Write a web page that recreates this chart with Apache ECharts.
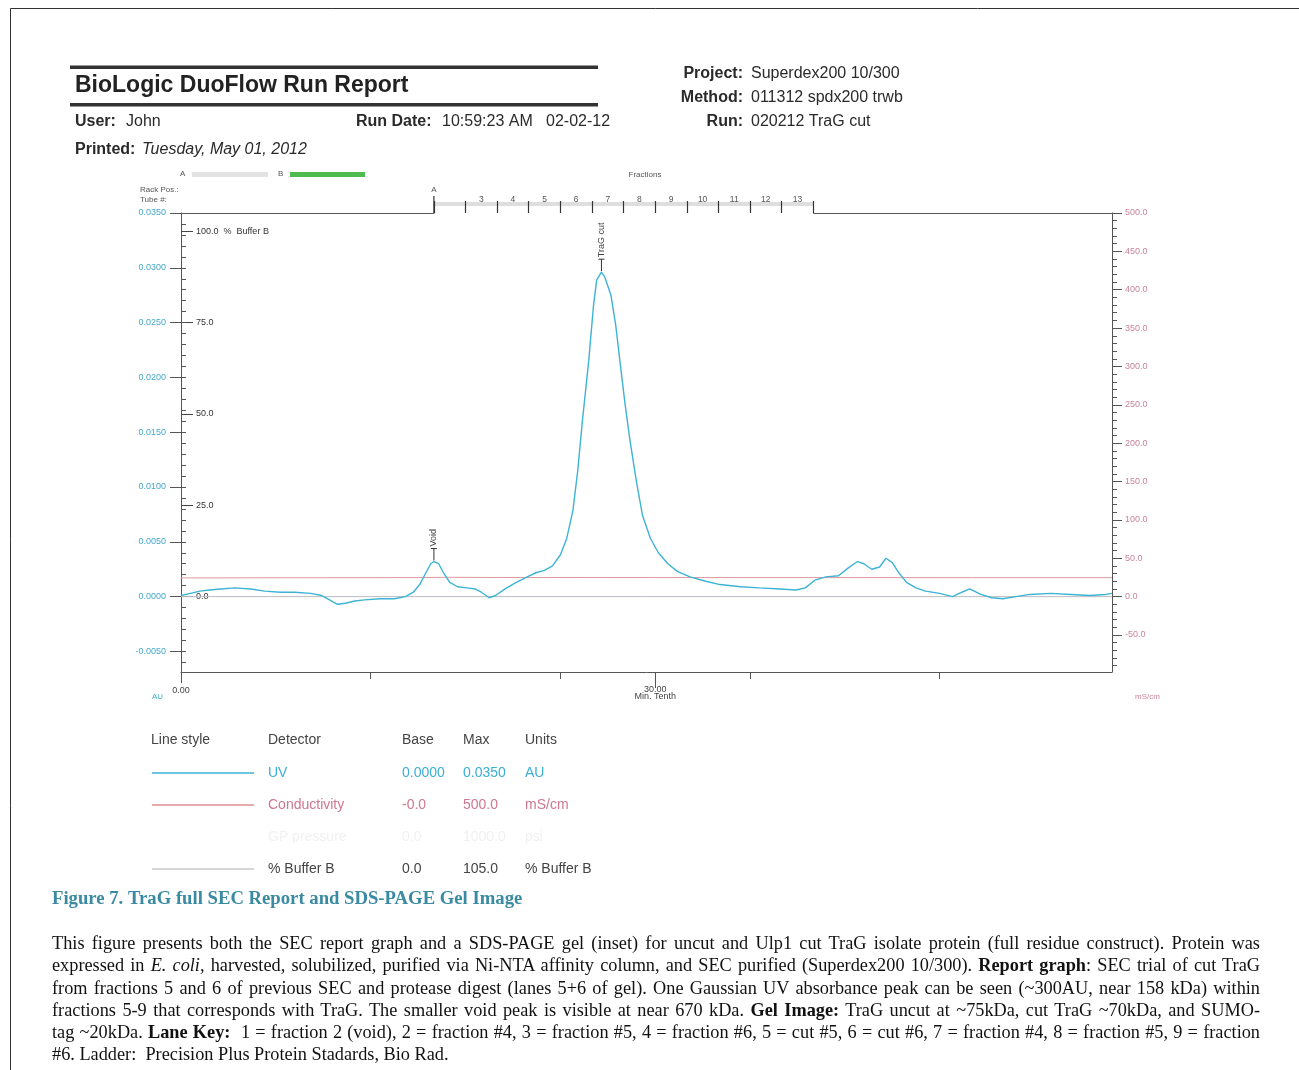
<!DOCTYPE html>
<html>
<head>
<meta charset="utf-8">
<title>BioLogic DuoFlow Run Report - TraG cut</title>
<script src="https://cdn.jsdelivr.net/npm/echarts@6.0.0/dist/echarts.min.js"></script>
<style>
  html, body { margin: 0; padding: 0; background: #fff; }
  #chart { position: absolute; left: 0; top: 0; width: 1299px; height: 1070px; }
  #caption {
    position: absolute; left: 52px; top: 932px; width: 1208px;
    font-family: 'Liberation Serif', 'Times New Roman', serif;
    font-size: 18.3px; line-height: 22.3px; color: #111;
  }
  #caption .ln { text-align: justify; text-align-last: justify; white-space: nowrap; overflow: visible; }
  #caption .ln.last { text-align: left; text-align-last: left; }
</style>
</head>
<body>
<div id="chart"></div>
<div id="caption">
  <div class="ln">This figure presents both the SEC report graph and a SDS-PAGE gel (inset) for uncut and Ulp1 cut TraG isolate protein (full residue construct). Protein was</div>
  <div class="ln">expressed in <i>E. coli</i>, harvested, solubilized, purified via Ni-NTA affinity column, and SEC purified (Superdex200 10/300). <b>Report graph</b>: SEC trial of cut TraG</div>
  <div class="ln">from fractions 5 and 6 of previous SEC and protease digest (lanes 5+6 of gel). One Gaussian UV absorbance peak can be seen (~300AU, near 158 kDa) within</div>
  <div class="ln">fractions 5-9 that corresponds with TraG. The smaller void peak is visible at near 670 kDa. <b>Gel Image:</b> TraG uncut at ~75kDa, cut TraG ~70kDa, and SUMO-</div>
  <div class="ln">tag ~20kDa. <b>Lane Key:</b>&nbsp; 1 = fraction 2 (void), 2 = fraction #4, 3 = fraction #5, 4 = fraction #6, 5 = cut #5, 6 = cut #6, 7 = fraction #4, 8 = fraction #5, 9 = fraction</div>
  <div class="ln last">#6. Ladder:&nbsp; Precision Plus Protein Stadards, Bio Rad.</div>
</div>
<script>
// ---- data ----
// run time in minutes (x axis)
const uvTime = [0, 0.6, 1.2, 1.8, 2.5, 3.4, 4.4, 5.3, 6.3, 7.2, 8.2, 8.9, 9.4, 9.9, 10.4, 11.0, 11.6, 12.6, 13.5,
  14.2, 14.7, 15.1, 15.5, 15.8, 16.0, 16.3, 16.6, 17.0, 17.5, 18.1, 18.6, 19.0, 19.5, 19.9, 20.5, 21.1, 21.9,
  22.5, 23.0, 23.5, 24.0, 24.4, 24.8, 25.1, 25.4, 25.8, 26.1, 26.3, 26.6, 26.8, 27.2, 27.5, 27.8, 28.1, 28.4,
  28.8, 29.2, 29.7, 30.2, 30.8, 31.4, 32.2, 33.2, 34.1, 35.4, 36.6, 37.9, 38.9, 39.5, 40.1, 40.8, 41.6, 42.2,
  42.8, 43.2, 43.7, 44.2, 44.6, 45.0, 45.4, 45.9, 46.5, 47.1, 48.0, 48.8, 49.4, 49.9, 50.6, 51.3, 52.0, 52.8,
  53.7, 55.0, 56.3, 57.5, 58.5, 58.9];
// UV absorbance (AU)
const uvAbs = [0.0001, 0.0003, 0.0005, 0.0006, 0.0007, 0.0008, 0.0007, 0.0005, 0.0004, 0.0004, 0.0003, 0.0001, -0.0003,
  -0.0007, -0.0006, -0.0004, -0.0003, -0.0002, -0.0002, 0.0000, 0.0004, 0.0011, 0.0022, 0.0030, 0.0032, 0.0030,
  0.0022, 0.0013, 0.0009, 0.0008, 0.0007, 0.0004, -0.0001, 0.0001, 0.0007, 0.0012, 0.0018, 0.0022, 0.0024, 0.0028,
  0.0038, 0.0053, 0.0079, 0.0115, 0.0161, 0.0216, 0.0266, 0.0289, 0.0296, 0.0292, 0.0275, 0.0248, 0.0211, 0.0175,
  0.0143, 0.0106, 0.0074, 0.0053, 0.0040, 0.0030, 0.0023, 0.0018, 0.0014, 0.0011, 0.0009, 0.0008, 0.0007, 0.0006,
  0.0008, 0.0015, 0.0018, 0.0019, 0.0026, 0.0032, 0.0030, 0.0025, 0.0027, 0.0035, 0.0031, 0.0022, 0.0013, 0.0008,
  0.0005, 0.0003, 0.0000, 0.0004, 0.0007, 0.0002, -0.0001, -0.0002, 0.0000, 0.0002, 0.0003, 0.0002, 0.0001, 0.0002,
  0.0003];
// conductivity (mS/cm)
const condTime = [0, 8, 15, 17, 20, 30, 40, 50, 58.9];
const condVal = [24.4, 24.6, 24.8, 25.2, 24.9, 24.8, 24.8, 24.7, 24.7];
// % buffer B
const bufTime = [0, 58.9];
const bufVal = [0, 0];

// ticks and labels
const uvTicks = [-0.005, 0, 0.005, 0.01, 0.015, 0.02, 0.025, 0.03, 0.035];
const condTicks = [-50, 0, 50, 100, 150, 200, 250, 300, 350, 400, 450, 500];
const bufTicks = [0, 25, 50, 75, 100];
const timeTicks = [12, 24, 36, 48];
const timeLabels = [0];
const fractionEdges = [16, 18, 20, 22, 24, 26, 28, 30, 32, 34, 36, 38, 40];
const fractionNames = ['3', '4', '5', '6', '7', '8', '9', '10', '11', '12', '13'];
const fractionMids = [19, 21, 23, 25, 27, 29, 31, 33, 35, 37, 39];
const peaks = [{ name: 'TraG cut', time: 26.6 }, { name: 'Void', time: 16.0 }];

const legendRows = [
  { line: '#3db3d5', detector: 'UV', base: '0.0000', max: '0.0350', units: 'AU', color: '#3aaed3' },
  { line: '#de8f8f', detector: 'Conductivity', base: '-0.0', max: '500.0', units: 'mS/cm', color: '#d0778f' },
  { line: null, detector: 'GP pressure', base: '0.0', max: '1000.0', units: 'psi', color: '#f1f1f1' },
  { line: '#c8c8c8', detector: '% Buffer B', base: '0.0', max: '105.0', units: '% Buffer B', color: '#444' }
];

const T_MAX = 58.9;
const BELOW = 0.1965; // share of each scale below zero
const UV_MAX = 0.035, COND_MAX = 500, BUF_MAX = 105;

function minorTicks(step, lo, hi) {
  const out = [];
  for (let v = Math.ceil(lo / step); v * step <= hi + 1e-9; v++) out.push(+(v * step).toFixed(6));
  return out;
}

const chart = echarts.init(document.getElementById('chart'));
const small = { fontFamily: 'Liberation Sans', fontSize: 9 };

const option = {
  animation: false,
  backgroundColor: '#fff',
  textStyle: { fontFamily: 'Liberation Sans' },
  grid: { left: 181, top: 213, right: 187, bottom: 398 },
  xAxis: [
    {
      type: 'value', min: 0, max: T_MAX, position: 'bottom',
      axisLine: { onZero: false, lineStyle: { color: '#555', width: 1 } },
      axisTick: { customValues: timeTicks, length: 7, lineStyle: { color: '#555' } },
      axisLabel: Object.assign({ customValues: timeLabels, color: '#444', margin: 14, formatter: v => v.toFixed(2) }, small),
      splitLine: { show: false }
    },
    {
      // fraction collector ruler
      type: 'value', min: 0, max: T_MAX, position: 'top',
      axisLine: { show: false, onZero: false },
      axisTick: { customValues: fractionEdges, length: 12, lineStyle: { color: '#333', width: 1.2 } },
      axisLabel: {
        customValues: fractionMids, color: '#555', fontSize: 8.5, margin: 9,
        formatter: v => fractionNames[fractionMids.indexOf(v)]
      },
      splitLine: { show: false }
    },
    {
      type: 'value', min: 0, max: T_MAX, position: 'bottom',
      axisLine: { show: false, onZero: false },
      axisTick: { customValues: [30], length: 16, lineStyle: { color: '#555' } },
      axisLabel: {
        customValues: [30], margin: 15, color: '#444',
        formatter: v => '{a|' + v.toFixed(2) + '}\n{b|Min. Tenth}',
        rich: { a: { fontSize: 9, lineHeight: 6, color: '#444' }, b: { fontSize: 9, lineHeight: 8, color: '#444' } }
      },
      splitLine: { show: false }
    }
  ],
  yAxis: [
    {
      type: 'value', min: -UV_MAX * BELOW, max: UV_MAX, position: 'left',
      axisLine: { show: true, onZero: false, lineStyle: { color: '#555' } },
      axisTick: { customValues: uvTicks, length: 11, lineStyle: { color: '#555' } },
      axisLabel: Object.assign({ customValues: uvTicks, color: '#45a9cc', margin: 15, formatter: v => v.toFixed(4) }, small),
      splitLine: { show: false }
    },
    {
      type: 'value', min: -COND_MAX * BELOW, max: COND_MAX, position: 'right',
      axisLine: { show: true, onZero: false, lineStyle: { color: '#555' } },
      axisTick: { customValues: condTicks, length: 10, lineStyle: { color: '#555' } },
      axisLabel: Object.assign({ customValues: condTicks, color: '#c9859c', margin: 13, formatter: v => v.toFixed(1) }, small),
      splitLine: { show: false }
    },
    {
      type: 'value', min: -BUF_MAX * BELOW, max: BUF_MAX, position: 'left',
      axisLine: { show: false, onZero: false },
      axisTick: { inside: true, customValues: bufTicks, length: 12, lineStyle: { color: '#444' } },
      axisLabel: Object.assign({
        inside: true, customValues: bufTicks, color: '#333', margin: 15,
        formatter: v => v === 100 ? '100.0  %  Buffer B' : v.toFixed(1)
      }, small),
      splitLine: { show: false }
    },
    {
      // UV minor ticks
      type: 'value', min: -UV_MAX * BELOW, max: UV_MAX, position: 'left',
      axisLine: { show: false, onZero: false },
      axisTick: { inside: true, customValues: minorTicks(0.001, -UV_MAX * BELOW, UV_MAX), length: 5, lineStyle: { color: '#555' } },
      axisLabel: { show: false },
      splitLine: { show: false }
    },
    {
      // conductivity minor ticks
      type: 'value', min: -COND_MAX * BELOW, max: COND_MAX, position: 'right',
      axisLine: { show: false, onZero: false },
      axisTick: { customValues: minorTicks(10, -COND_MAX * BELOW, COND_MAX), length: 5, lineStyle: { color: '#555' } },
      axisLabel: { show: false },
      splitLine: { show: false }
    }
  ],
  series: [
    {
      name: '% Buffer B', type: 'line', xAxisIndex: 0, yAxisIndex: 2, showSymbol: false, silent: true,
      data: bufTime.map((t, i) => [t, bufVal[i]]),
      lineStyle: { color: '#bdbcc6', width: 1 }, z: 1
    },
    {
      name: 'Conductivity', type: 'line', xAxisIndex: 0, yAxisIndex: 1, showSymbol: false, silent: true,
      data: condTime.map((t, i) => [t, condVal[i]]),
      lineStyle: { color: '#dc9a9d', width: 1 }, z: 2
    },
    {
      name: 'UV', type: 'line', xAxisIndex: 0, yAxisIndex: 0, showSymbol: false, silent: true,
      data: uvTime.map((t, i) => [t, uvAbs[i]]),
      lineStyle: { color: '#3db3d5', width: 1.4 }, z: 3
    }
  ]
};
chart.setOption(option);

// ---- page furniture ----
function txt(x, y, s, o) {
  const st = Object.assign({
    text: s, fill: '#2a2a2a', font: '16px "Liberation Sans"',
    align: 'left', textAlign: 'left', verticalAlign: 'middle', textVerticalAlign: 'middle'
  }, o || {});
  if (st.align !== 'left') st.textAlign = st.align;
  return { type: 'text', x: x, y: y, silent: true, style: st };
}
function line(x1, y1, x2, y2, color, w) {
  return { type: 'line', silent: true, shape: { x1, y1, x2, y2 }, style: { stroke: color, lineWidth: w || 1 } };
}
function rect(x, y, w, h, fill) {
  return { type: 'rect', silent: true, shape: { x, y, width: w, height: h }, style: { fill } };
}

const xPx = v => chart.convertToPixel({ xAxisIndex: 0 }, v);
const yPx = v => chart.convertToPixel({ yAxisIndex: 0 }, v);
const plotTop = 213, leftX = xPx(0), rightX = xPx(T_MAX);
const plotBottom = yPx(-UV_MAX * BELOW);
const f0 = xPx(fractionEdges[0]), f1 = xPx(fractionEdges[fractionEdges.length - 1]);

const B = '16px "Liberation Sans"';
const BB = 'bold 16px "Liberation Sans"';
const S = '8px "Liberation Sans"';
const L = '14px "Liberation Sans"';
const g = [
  { type: 'rect', silent: true, shape: { x: 10.5, y: 8.5, width: 1400, height: 1200 }, style: { fill: 'none', stroke: '#333', lineWidth: 1 } },
  // report header
  rect(70, 65.5, 528, 3.5, '#333'),
  rect(70, 103, 528, 3.5, '#333'),
  txt(75, 86, 'BioLogic DuoFlow Run Report', { font: 'bold 23px "Liberation Sans"', fill: '#222' }),
  txt(75, 122, 'User:', { font: BB }),
  txt(126, 122, 'John', { font: B }),
  txt(356, 122, 'Run Date:', { font: BB }),
  txt(442, 122, '10:59:23 AM', { font: B }),
  txt(546, 122, '02-02-12', { font: B }),
  txt(75, 150, 'Printed:', { font: BB }),
  txt(142, 150, 'Tuesday, May 01, 2012', { font: 'italic 16px "Liberation Sans"' }),
  txt(743, 74, 'Project:', { font: BB, align: 'right' }),
  txt(751, 74, 'Superdex200 10/300', { font: B }),
  txt(743, 98, 'Method:', { font: BB, align: 'right' }),
  txt(751, 98, '011312 spdx200 trwb', { font: B }),
  txt(743, 122, 'Run:', { font: BB, align: 'right' }),
  txt(751, 122, '020212 TraG cut', { font: B }),
  // valve / rack strip
  txt(180, 174, 'A', { font: S, fill: '#555' }),
  rect(192, 172, 76, 5, '#e3e3e3'),
  txt(278, 174, 'B', { font: S, fill: '#555' }),
  rect(290, 172, 75, 5, '#4dbb4d'),
  txt(645, 175, 'Fractions', { font: S, fill: '#555', align: 'center' }),
  txt(140, 190, 'Rack Pos.:', { font: S, fill: '#555' }),
  txt(140, 200, 'Tube #:', { font: S, fill: '#555' }),
  txt(f0, 190, 'A', { font: S, fill: '#555', align: 'center' }),
  // plot frame top (broken by the fraction ruler)
  line(leftX, plotTop + 0.5, f0, plotTop + 0.5, '#555', 1),
  line(f1, plotTop + 0.5, rightX, plotTop + 0.5, '#555', 1),
  rect(f0, 202, f1 - f0, 4, '#dedede'),
  line(f0, 196, f0, plotTop + 0.5, '#333', 1.2),
  // left axis runs a little past the time axis
  line(leftX + 0.5, plotBottom, leftX + 0.5, plotBottom + 11, '#555', 1),
  // unit labels
  txt(152, 697, 'AU', { font: S, fill: '#45a9cc' }),
  txt(1135, 697, 'mS/cm', { font: S, fill: '#c9859c' }),
  // legend table
  txt(151, 740, 'Line style', { font: L, fill: '#444' }),
  txt(268, 740, 'Detector', { font: L, fill: '#444' }),
  txt(402, 740, 'Base', { font: L, fill: '#444' }),
  txt(463, 740, 'Max', { font: L, fill: '#444' }),
  txt(525, 740, 'Units', { font: L, fill: '#444' }),
  // figure title
  txt(52, 899, 'Figure 7. TraG full SEC Report and SDS-PAGE Gel Image', { font: 'bold 18.7px "Liberation Serif"', fill: '#3a8aa2' })
];
const rowY = [773, 805, 837, 869];
legendRows.forEach((r, i) => {
  const y = rowY[i];
  if (r.line) g.push(line(152, y, 254, y, r.line, 1.3));
  const c = { font: L, fill: r.color };
  g.push(txt(268, y, r.detector, c), txt(402, y, r.base, c), txt(463, y, r.max, c), txt(525, y, r.units, c));
});
// peak markers
peaks.forEach(p => {
  const i = uvTime.indexOf(p.time);
  const x = xPx(p.time), y = yPx(uvAbs[i]);
  g.push(line(x, y - 1, x, y - 13, '#333', 1));
  g.push(line(x - 3, y - 13, x + 3, y - 13, '#333', 1));
  g.push({
    type: 'text', silent: true, x: x, y: y - 15, rotation: Math.PI / 2,
    style: { text: p.name, font: '9px "Liberation Sans"', fill: '#444', align: 'left', textAlign: 'left', verticalAlign: 'middle', textVerticalAlign: 'middle' }
  });
});
chart.setOption({ graphic: g });
</script>
</body>
</html>
